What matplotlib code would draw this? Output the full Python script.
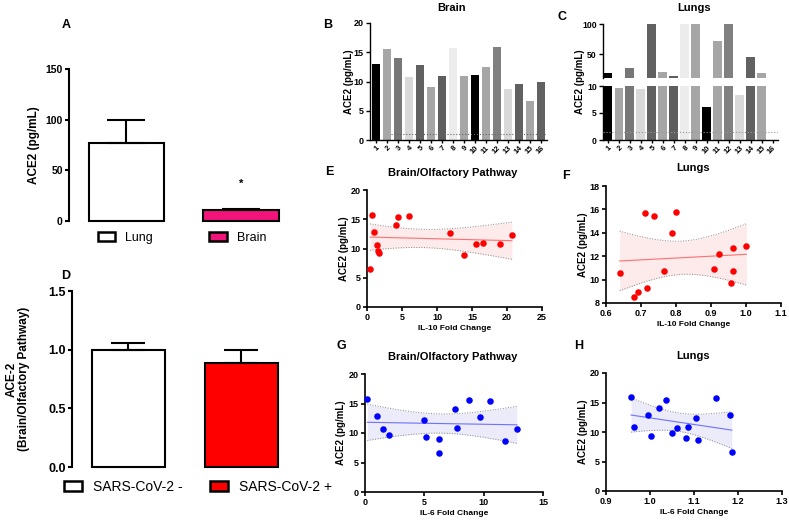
import matplotlib
matplotlib.use("Agg")
import matplotlib.pyplot as plt
import numpy as np
from matplotlib.patches import Patch

plt.rcParams["font.family"] = ["Liberation Sans", "DejaVu Sans"]
plt.rcParams["font.weight"] = "bold"
plt.rcParams["axes.labelweight"] = "bold"

# panel A / D
organ_groups = ["Lung", "Brain"]
organ_means = [77, 11]
organ_errors = [23, 1]
organ_colors = ["white", "#f2137b"]

covid_groups = ["SARS-CoV-2 -", "SARS-CoV-2 +"]
covid_means = [1.0, 0.89]
covid_errors = [0.06, 0.11]
covid_colors = ["white", "#ff0000"]

# panel B / C
patient_ids = ["1", "2", "3", "4", "5", "6", "7", "8", "9", "10", "11", "12", "13", "14", "15", "16"]
brain_ace2 = [13.0, 15.5, 14.1, 10.7, 12.8, 9.1, 10.9, 15.8, 10.9, 11.1, 12.4, 15.9, 8.7, 9.5, 6.7, 9.9]
lung_ace2 = [18.5, 9.7, 27, 9.5, 100, 20, 14, 100, 100, 6.2, 71, 100, 8.3, 45, 18, 0]
bar_shades = ["#000000", "#a6a6a6", "#777777", "#d9d9d9", "#616161", "#a6a6a6", "#5e5e5e", "#ececec",
              "#a6a6a6", "#000000", "#a6a6a6", "#808080", "#d9d9d9", "#616161", "#a6a6a6", "#616161"]

# panels E-H
e_il10 = [0.43, 0.71, 1.05, 1.48, 1.57, 1.71, 4.14, 4.43, 6.0, 11.9, 13.8, 15.5, 16.6, 19.0, 20.7]
e_ace2 = [6.5, 15.8, 12.9, 10.6, 9.6, 9.3, 14.0, 15.4, 15.6, 12.7, 8.9, 10.7, 10.9, 10.7, 12.25]
f_il10 = [0.639, 0.681, 0.690, 0.711, 0.716, 0.737, 0.765, 0.789, 0.799, 0.909, 0.924, 0.964, 0.964, 0.958, 1.001]
f_ace2 = [10.6, 8.54, 8.9, 15.7, 9.3, 15.4, 10.7, 14.0, 15.8, 10.9, 12.2, 12.7, 10.7, 9.7, 12.9]
g_il6 = [0.2, 0.98, 1.49, 2.05, 4.94, 5.11, 6.2, 6.2, 7.55, 7.72, 8.79, 9.66, 10.56, 11.82, 12.8]
g_ace2 = [15.8, 12.9, 10.6, 9.7, 12.25, 9.3, 9.0, 6.55, 14.0, 10.9, 15.65, 12.7, 15.4, 8.6, 10.7]
h_il6 = [0.957, 0.964, 0.996, 1.003, 1.02, 1.036, 1.05, 1.062, 1.082, 1.087, 1.104, 1.108, 1.15, 1.181, 1.186]
h_ace2 = [15.9, 10.8, 12.95, 9.37, 14.1, 15.5, 9.8, 10.7, 9.0, 10.8, 12.3, 8.6, 15.7, 12.8, 6.6]

W, H = 789, 521
fig = plt.figure(figsize=(W / 100, H / 100), dpi=100)


def add_ax(l, t, r, b):
    return fig.add_axes([l / W, 1 - b / H, (r - l) / W, (b - t) / H])


def style(ax, size=6.5, lw=1.2):
    ax.spines["top"].set_visible(False)
    ax.spines["right"].set_visible(False)
    ax.spines["left"].set_linewidth(lw)
    ax.spines["bottom"].set_linewidth(lw)
    ax.tick_params(labelsize=size, width=lw, length=3, pad=1.5)


def ftext(x, y, s, size=8, **kw):
    fig.text(x / W, 1 - y / H, s, fontsize=size, ha="center", va="center", **kw)


def fit_band(ax, x, y, line_color, fill_color):
    x = np.asarray(x)
    y = np.asarray(y)
    n = len(x)
    slope, icpt = np.polyfit(x, y, 1)
    xs = np.linspace(x.min(), x.max(), 100)
    yhat = icpt + slope * xs
    resid = y - (icpt + slope * x)
    s = np.sqrt(np.sum(resid ** 2) / (n - 2))
    se = s * np.sqrt(1 / n + (xs - x.mean()) ** 2 / np.sum((x - x.mean()) ** 2))
    t = 2.16
    ax.fill_between(xs, yhat - t * se, yhat + t * se, color=fill_color, lw=0, zorder=1)
    ax.plot(xs, yhat - t * se, ls=":", color="#888888", lw=0.7, zorder=2)
    ax.plot(xs, yhat + t * se, ls=":", color="#888888", lw=0.7, zorder=2)
    ax.plot(xs, yhat, color=line_color, lw=0.8, zorder=2)


# ---- A ----
axA = add_ax(69, 69, 293, 221)
style(axA, size=7.5, lw=1.5)
axA.spines["bottom"].set_visible(False)
axA.bar(range(2), organ_means, width=0.66, yerr=[np.zeros(2), organ_errors],
        color=organ_colors, edgecolor="black", linewidth=1.5, capsize=14,
        error_kw=dict(elinewidth=1.5, capthick=1.5), clip_on=False)
axA.set_xlim(-0.5, 1.45)
axA.set_ylim(0, 150)
axA.set_yticks([0, 50, 100, 150])
axA.set_xticks([])
axA.text(1, 37, "*", ha="center", va="center", fontsize=8)
axA.set_ylabel("ACE2 (pg/mL)", fontsize=8.5)
axA.yaxis.set_label_coords(-0.13, 0.5)
handles = [Patch(facecolor=c, edgecolor="black", linewidth=1.8) for c in organ_colors]
axA.legend(handles, organ_groups, ncol=2, loc="center", bbox_to_anchor=(182 / W, 1 - 238 / H),
           bbox_transform=fig.transFigure, frameon=False, handlelength=1.4, handleheight=0.7,
           handletextpad=0.8, columnspacing=4.5, prop=dict(size=9, weight="normal"))
ftext(66, 25, "A", size=9, fontweight="bold")

# ---- D ----
axD = add_ax(72, 291, 292, 467)
style(axD, size=9, lw=1.5)
axD.spines["bottom"].set_visible(False)
axD.bar(range(2), covid_means, width=0.646, yerr=[np.zeros(2), covid_errors],
        color=covid_colors, edgecolor="black", linewidth=1.5, capsize=12,
        error_kw=dict(elinewidth=1.5, capthick=1.5), clip_on=False)
axD.set_xlim(-0.5, 1.45)
axD.set_ylim(0, 1.5)
axD.set_yticks([0, 0.5, 1.0, 1.5])
axD.set_yticklabels(["0.0", "0.5", "1.0", "1.5"])
axD.set_xticks([])
axD.set_ylabel("ACE-2\n(Brain/Olfactory Pathway)", fontsize=8.5, linespacing=1.1)
axD.yaxis.set_label_coords(-0.19, 0.5)
handles = [Patch(facecolor=c, edgecolor="black", linewidth=1.8) for c in covid_colors]
axD.legend(handles, covid_groups, ncol=2, loc="center", bbox_to_anchor=(198 / W, 1 - 487 / H),
           bbox_transform=fig.transFigure, frameon=False, handlelength=1.25, handleheight=0.65,
           handletextpad=0.8, columnspacing=2.0, prop=dict(size=10, weight="normal"))
ftext(66, 276, "D", size=9, fontweight="bold")

# ---- B ----
pos = np.arange(1, 17)
axB = add_ax(370, 23, 546.5, 140)
style(axB, size=6.5, lw=1.0)
axB.bar(pos, brain_ace2, width=0.8, color=bar_shades)
axB.plot([2.4, 16.5], [1, 1], ls=":", color="#666666", lw=0.8, zorder=3)
axB.set_xlim(0.45, 16.5)
axB.set_ylim(0, 20)
axB.set_yticks([0, 5, 10, 15, 20])
axB.set_xticks(pos)
axB.set_xticklabels(patient_ids, rotation=45, ha="right", rotation_mode="anchor", fontsize=5.5)
axB.tick_params(axis="x", length=2)
axB.set_ylabel("ACE2 (pg/mL)", fontsize=7)
axB.yaxis.set_label_coords(-0.09, 0.5)
ftext(452, 8, "Brain", size=8, fontweight="bold")
ftext(328, 25, "B", size=9, fontweight="bold")

# ---- C (broken axis) ----
axC1 = add_ax(603, 86, 778, 140)
axC2 = add_ax(603, 24, 778, 78)
for ax in (axC1, axC2):
    style(ax, size=6.2, lw=1.0)
    ax.bar(pos, lung_ace2, width=0.8, color=bar_shades)
    ax.set_xlim(0.55, 16.5)
axC1.plot([0.55, 16.5], [1.5, 1.5], ls=":", color="#999999", lw=0.8, zorder=3)
axC1.set_ylim(0, 10)
axC1.set_yticks([0, 5, 10])
axC1.set_xticks(pos)
axC1.set_xticklabels(patient_ids, rotation=45, ha="right", rotation_mode="anchor", fontsize=5.5)
axC1.tick_params(axis="x", length=2)
axC2.set_ylim(10, 100)
axC2.set_yticks([50, 100])
axC2.set_xticks([])
axC2.spines["bottom"].set_visible(False)
fig.text(580 / W, 1 - 82 / H, "ACE2 (pg/mL)", fontsize=7, rotation=90, ha="center", va="center")
ftext(694, 8, "Lungs", size=8, fontweight="bold")
ftext(562, 17, "C", size=9, fontweight="bold")

# ---- E-H ----
scatter_panels = [
    ((367, 190, 542, 307), e_il10, e_ace2, "red", "#ff7070", "#fdeaea", (0, 25), np.arange(0, 26, 5),
     (0, 20), np.arange(0, 21, 5), "IL-10 Fold Change", "Brain/Olfactory Pathway", (453, 173), "E", (329, 172)),
    ((606, 186, 781, 303), f_il10, f_ace2, "red", "#ff7070", "#fdeaea", (0.6, 1.1), np.arange(0.6, 1.11, 0.1),
     (8, 18), np.arange(8, 19, 2), "IL-10 Fold Change", "Lungs", (693, 168), "F", (566, 176)),
    ((365, 374, 543, 492), g_il6, g_ace2, "blue", "#7070ff", "#ebebfa", (0, 15), np.arange(0, 16, 5),
     (0, 20), np.arange(0, 21, 5), "IL-6 Fold Change", "Brain/Olfactory Pathway", (453, 357), "G", (341, 346)),
    ((606, 373, 782, 491), h_il6, h_ace2, "blue", "#7070ff", "#ebebfa", (0.9, 1.3), np.arange(0.9, 1.31, 0.1),
     (0, 20), np.arange(0, 21, 5), "IL-6 Fold Change", "Lungs", (693, 356), "H", (579, 346)),
]

for box, xs, ys, dot, line, fill, xlim, xt, ylim, yt, xlab, title, tpos, letter, lpos in scatter_panels:
    ax = add_ax(*box)
    style(ax, size=6.5, lw=1.2)
    fit_band(ax, xs, ys, line, fill)
    ax.scatter(xs, ys, s=22, color=dot, zorder=4, clip_on=False, linewidths=0)
    ax.set_xlim(*xlim)
    ax.set_ylim(*ylim)
    ax.set_xticks(xt)
    if xlim[1] < 2:
        ax.set_xticklabels([f"{v:.1f}" for v in xt])
    ax.set_yticks(yt)
    ax.set_xlabel(xlab, fontsize=6)
    ax.xaxis.set_label_coords(0.5, -0.15)
    ax.set_ylabel("ACE2 (pg/mL)", fontsize=7)
    ax.yaxis.set_label_coords(-0.105, 0.5)
    ftext(tpos[0], tpos[1], title, size=8, fontweight="bold")
    ftext(lpos[0], lpos[1], letter, size=9, fontweight="bold")

fig.savefig("out.png", dpi=100)
